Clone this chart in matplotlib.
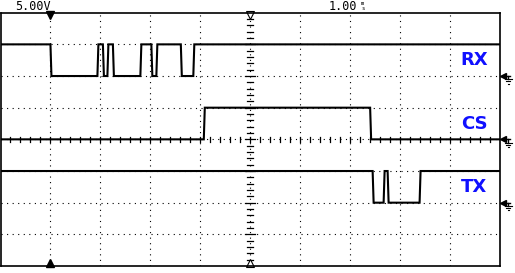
import numpy as np
import matplotlib.pyplot as plt

# scope settings / labels
volt_div = "5.00V"
time_div = "1.00"
channels = ["RX", "CS", "TX"]

# levels in divisions (low, high) and edge times in divisions
rx_levels = (6.0, 7.0)
rx_start = 1
rx_edges = [1.00, 1.94, 2.05, 2.14, 2.25, 2.80, 3.02, 3.12, 3.61, 3.86]

cs_levels = (4.0, 5.0)
cs_start = 0
cs_edges = [4.07, 7.40]

tx_levels = (2.0, 3.0)
tx_start = 1
tx_edges = [7.45, 7.67, 7.75, 8.39]


def escalon(edges, levels, start):
    xs = [0.0]
    ys = [levels[start]]
    s = start
    for e in edges:
        xs += [e, e + 0.02]
        ys += [levels[s], levels[1 - s]]
        s = 1 - s
    xs.append(10.0)
    ys.append(levels[s])
    return xs, ys


W, H = 515, 273
fig = plt.figure(figsize=(W / 100, H / 100), dpi=100)
x0, x1, ytop, ybot = 0.5, 500, 12.7, 266
ax = fig.add_axes([x0 / W, (H - ybot) / H, (x1 - x0) / W, (ybot - ytop) / H])
ax.set_xlim(0, 10)
ax.set_ylim(0, 8)
ax.set_xticks([])
ax.set_yticks([])
for s in ax.spines.values():
    s.set_linewidth(1.2)
    s.set_color("black")

# grid punteado
pun = (0, (1, 4))
for gx in range(1, 10):
    ax.plot([gx, gx], [0, 8], color="black", lw=0.8, ls=pun)
for gy in range(1, 8):
    ax.plot([0, 10], [gy, gy], color="black", lw=0.8, ls=pun)

# marcas en los ejes centrales
for ty in np.arange(0.2, 8, 0.2):
    mayor = abs(ty - round(ty)) < 1e-6
    w = 0.1 if mayor else 0.06
    ax.plot([5 - w, 5 + w], [ty, ty], color="black", lw=0.9)
for tx in np.arange(0.2, 10, 0.2):
    ax.plot([tx, tx], [4 - 0.08, 4 + 0.08], color="black", lw=0.9)

# trazas
for edges, lv, st in [(rx_edges, rx_levels, rx_start),
                      (cs_edges, cs_levels, cs_start),
                      (tx_edges, tx_levels, tx_start)]:
    xs, ys = escalon(edges, lv, st)
    ax.plot(xs, ys, color="black", lw=1.5, solid_joinstyle="miter")

# etiquetas de canal
for name, yl in zip(channels, [6.5, 4.5, 2.5]):
    ax.text(9.48, yl, name, color="#1010ff", fontsize=13, fontweight="bold",
            ha="center", va="center", family="DejaVu Sans")

# marcadores de disparo
ax.plot([1], [7.92], marker="v", color="black", ms=6, clip_on=False)
ax.plot([1], [0.08], marker="^", color="black", ms=6, clip_on=False)
ax.plot([5], [7.92], marker="v", mfc="white", mec="black", ms=6, mew=0.8, clip_on=False)
ax.plot([5], [0.08], marker="^", mfc="white", mec="black", ms=6, mew=0.8, clip_on=False)

# marcadores de tierra a la derecha
for gy in [6.0, 4.0, 2.0]:
    ax.plot([10.06], [gy], marker="<", color="black", ms=5, clip_on=False)
    ax.plot([10.06, 10.2], [gy, gy], color="black", lw=1, clip_on=False)
    ax.plot([10.17, 10.17], [gy, gy - 0.1], color="black", lw=1, clip_on=False)
    ax.plot([10.1, 10.24], [gy - 0.1, gy - 0.1], color="black", lw=0.8, clip_on=False)
    ax.plot([10.13, 10.21], [gy - 0.17, gy - 0.17], color="black", lw=0.8, clip_on=False)
    ax.plot([10.16, 10.18], [gy - 0.24, gy - 0.24], color="black", lw=0.8, clip_on=False)

# textos superiores
fig.text(15 / W, 1 - 10 / H, volt_div, family="DejaVu Sans Mono", fontsize=8.5,
         ha="left", va="baseline")
fig.text(329 / W, 1 - 10 / H, time_div, family="DejaVu Sans Mono", fontsize=8.5,
         ha="left", va="baseline")
fig.text(361 / W, 1 - 5 / H, "m", family="DejaVu Sans Mono", fontsize=4,
         ha="left", va="baseline")
fig.text(361.5 / W, 1 - 10 / H, "s", family="DejaVu Sans Mono", fontsize=4,
         ha="left", va="baseline")

fig.savefig("out.png", dpi=100)
